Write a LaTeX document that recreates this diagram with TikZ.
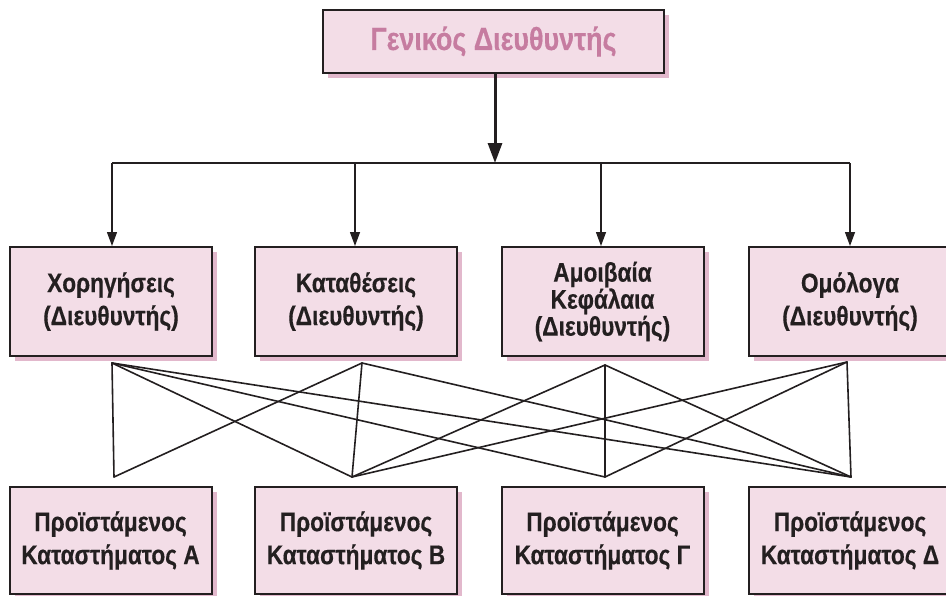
\documentclass[tikz,border=0pt]{standalone}
\usepackage{fontspec}
\setmainfont{Liberation Sans}
\newfontfamily\boxfont[FakeStretch=0.84,BoldFeatures={FakeBold=0.4}]{Liberation Sans}
\usetikzlibrary{arrows.meta,shadows}
\definecolor{boxfill}{RGB}{243,221,231}
\definecolor{boxshadow}{RGB}{226,184,204}
\definecolor{titlepink}{RGB}{198,124,160}
\definecolor{ink}{RGB}{35,31,32}
\tikzset{
  orgbox/.style={draw=ink, line width=2pt, fill=boxfill, inner sep=0pt, align=center, text=ink,
    drop shadow={shadow xshift=5pt, shadow yshift=-5pt, fill=boxshadow, opacity=1},
    font=\boxfont\bfseries\fontsize{27}{33}\selectfont},
  midbox/.style={orgbox, minimum width=202pt, minimum height=109pt},
  lowbox/.style={orgbox, minimum width=202pt, minimum height=107pt},
  mainarrow/.style={draw=ink, line width=3pt, -{Triangle[length=20pt,width=14pt]}},
  droparrow/.style={draw=ink, line width=1.3pt, -{Triangle[length=14pt,width=10pt]}},
  thinline/.style={draw=ink, line width=1.3pt},
  crossline/.style={draw=ink, line width=1.6pt, line cap=round}
}
\begin{document}
\begin{tikzpicture}[x=1pt,y=-1pt]
\useasboundingbox (0,0) rectangle (946,595);
% top
\node[orgbox, minimum width=341pt, minimum height=63pt, text=titlepink,
  font=\boxfont\bfseries\fontsize{32}{38}\selectfont] (top) at (493.5,41.5) {Γενικός Διευθυντής};
% middle
\node[midbox] (m1) at (111,301.5) {Χορηγήσεις\\(Διευθυντής)};
\node[midbox] (m2) at (356,301.5) {Καταθέσεις\\(Διευθυντής)};
\node[midbox, font=\boxfont\bfseries\fontsize{27}{27}\selectfont] (m3) at (602.5,301.5) {Αμοιβαία\\Κεφάλαια\\(Διευθυντής)};
\node[midbox] (m4) at (850,301.5) {Ομόλογα\\(Διευθυντής)};
% bottom
\node[lowbox] (b1) at (110.5,540.5) {Προϊστάμενος\\Καταστήματος Α};
\node[lowbox] (b2) at (356,540.5) {Προϊστάμενος\\Καταστήματος Β};
\node[lowbox] (b3) at (602.5,540.5) {Προϊστάμενος\\Καταστήματος Γ};
\node[lowbox] (b4) at (850,540.5) {Προϊστάμενος\\Καταστήματος Δ};
% tree
\coordinate (bar) at (495,163);
\coordinate (h1) at (112,163);
\coordinate (h2) at (355,163);
\coordinate (h3) at (601,163);
\coordinate (h4) at (850,163);
\draw[mainarrow] (top.south -| bar) -- (bar);
\draw[thinline] (h1) -- (h4);
\draw[droparrow] (h1) -- (h1 |- m1.north);
\draw[droparrow] (h2) -- (h2 |- m2.north);
\draw[droparrow] (h3) -- (h3 |- m3.north);
\draw[droparrow] (h4) -- (h4 |- m4.north);
% crossing network
\coordinate (t1) at (112,363);
\coordinate (t2) at (362,363);
\coordinate (t3) at (605,365);
\coordinate (t4) at (847,362);
\coordinate (u1) at (114,477);
\coordinate (u2) at (352,477);
\coordinate (u3) at (605,477);
\coordinate (u4) at (851,477);
\draw[crossline] (t1) -- (u1);
\draw[crossline] (t1) -- (u2);
\draw[crossline] (t1) -- (u3);
\draw[crossline] (t1) -- (u4);
\draw[crossline] (t2) -- (u1);
\draw[crossline] (t2) -- (u2);
\draw[crossline] (t2) -- (u4);
\draw[crossline] (t3) -- (u2);
\draw[crossline] (t3) -- (u3);
\draw[crossline] (t3) -- (u4);
\draw[crossline] (t4) -- (u2);
\draw[crossline] (t4) -- (u3);
\draw[crossline] (t4) -- (u4);
\end{tikzpicture}
\end{document}
